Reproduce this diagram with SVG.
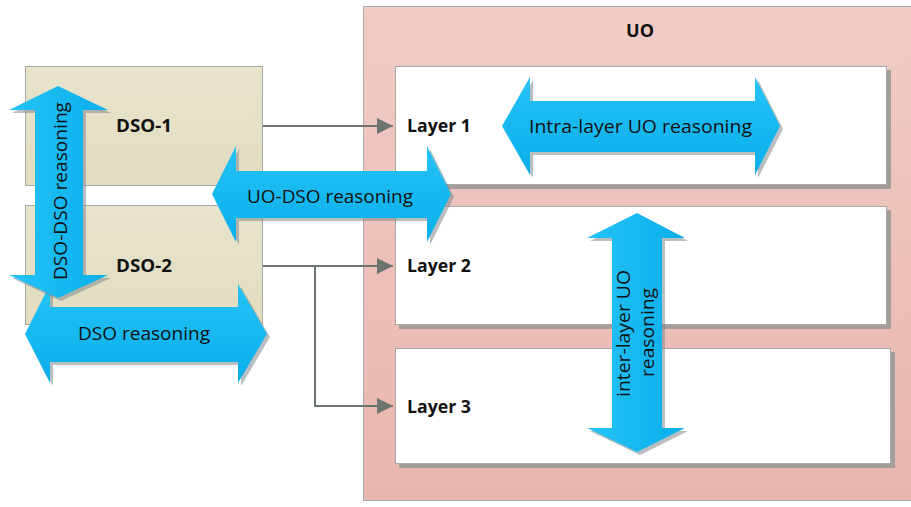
<svg xmlns="http://www.w3.org/2000/svg" xmlns:xlink="http://www.w3.org/1999/xlink" width="911" height="507" viewBox="0 0 911 507">
<defs>
<linearGradient id="gUO" x1="0" y1="0" x2="0" y2="1"><stop offset="0" stop-color="#f0ccc6"/><stop offset="1" stop-color="#e9b6ae"/></linearGradient>
<linearGradient id="gDSO" x1="0" y1="0" x2="0" y2="1"><stop offset="0" stop-color="#e8e4cc"/><stop offset="1" stop-color="#e2ddc0"/></linearGradient>
<linearGradient id="gH" x1="0" y1="0" x2="0" y2="1"><stop offset="0" stop-color="#25c3f7"/><stop offset="1" stop-color="#0aaeea"/></linearGradient>
<linearGradient id="gV" x1="0" y1="0" x2="1" y2="0"><stop offset="0" stop-color="#25c3f7"/><stop offset="1" stop-color="#0aaeea"/></linearGradient>
<marker id="ah" viewBox="0 0 16 16" refX="16" refY="8" markerWidth="16" markerHeight="16" markerUnits="userSpaceOnUse" orient="auto"><path d="M0,0 L16,8 L0,16 Z" fill="#6c7570"/></marker>
</defs>
<style>
.box{stroke:#a8a8a8;stroke-width:1}
.shadow{fill:#a49d99}
.ashadow{fill:#7f8a8e;opacity:0.55}
.bold{font-family:"Open Sans","Liberation Sans",sans-serif;font-weight:bold;font-size:18px;fill:#111}
.lbl{font-family:"Open Sans","Liberation Sans",sans-serif;font-size:19px;fill:#111}
.conn{fill:none;stroke:#6c7570;stroke-width:2}
</style>
<rect width="911" height="507" fill="#ffffff"/>

<g id="uo">
<rect class="box" x="363.5" y="6.5" width="560" height="494" fill="url(#gUO)"/>
<text class="bold" x="640" y="37" text-anchor="middle">UO</text>
</g>

<g id="layer1">
<rect class="shadow" x="399" y="70" width="492" height="119"/>
<rect class="box" x="395.5" y="66.5" width="491" height="118" fill="#ffffff"/>
<text class="bold" x="407" y="132" textLength="64" lengthAdjust="spacingAndGlyphs">Layer 1</text>
</g>
<g id="layer2">
<rect class="shadow" x="399" y="210" width="492" height="119"/>
<rect class="box" x="395.5" y="206.5" width="491" height="118" fill="#ffffff"/>
<text class="bold" x="407" y="272" textLength="64" lengthAdjust="spacingAndGlyphs">Layer 2</text>
</g>
<g id="layer3">
<rect class="shadow" x="399" y="352" width="496" height="116"/>
<rect class="box" x="395.5" y="348.5" width="495" height="115" fill="#ffffff"/>
<text class="bold" x="407" y="413" textLength="64" lengthAdjust="spacingAndGlyphs">Layer 3</text>
</g>

<g id="dso1">
<rect class="box" x="25.5" y="66.5" width="237" height="119" fill="url(#gDSO)"/>
<text class="bold" x="116" y="132" textLength="56" lengthAdjust="spacingAndGlyphs">DSO-1</text>
</g>
<g id="dso2">
<rect class="box" x="25.5" y="205.5" width="237" height="119" fill="url(#gDSO)"/>
<text class="bold" x="116" y="272" textLength="56" lengthAdjust="spacingAndGlyphs">DSO-2</text>
</g>

<g id="connectors">
<path class="conn" d="M263,126 L393,126" marker-end="url(#ah)"/>
<path class="conn" d="M263,266 L393,266" marker-end="url(#ah)"/>
<path class="conn" d="M315,266 L315,406 L393,406" marker-end="url(#ah)"/>
</g>

<g id="dso-reasoning">
<path class="ashadow" transform="translate(3,3)" d="M25,334 L50,284 L50,307 L238,307 L238,284 L267,334 L238,383 L238,362 L50,362 L50,383 Z"/>
<path fill="url(#gH)" d="M25,334 L50,284 L50,307 L238,307 L238,284 L267,334 L238,383 L238,362 L50,362 L50,383 Z"/>
<text class="lbl" x="144" y="340" text-anchor="middle" textLength="132" lengthAdjust="spacingAndGlyphs">DSO reasoning</text>
</g>

<g id="dso-dso-reasoning">
<path class="ashadow" transform="translate(3,3)" d="M58,86 L108,110 L83,110 L83,275 L108,275 L58,298 L9,275 L35,275 L35,110 L9,110 Z"/>
<path fill="url(#gV)" d="M58,86 L108,110 L83,110 L83,275 L108,275 L58,298 L9,275 L35,275 L35,110 L9,110 Z"/>
<text class="lbl" x="67" y="191" text-anchor="middle" transform="rotate(-90 67 191)" textLength="178" lengthAdjust="spacingAndGlyphs">DSO-DSO reasoning</text>
</g>

<g id="uo-dso-reasoning">
<path class="ashadow" transform="translate(3,3)" d="M212,194 L236,146 L236,171 L427,171 L427,146 L451,194 L427,242 L427,218 L236,218 L236,242 Z"/>
<path fill="url(#gH)" d="M212,194 L236,146 L236,171 L427,171 L427,146 L451,194 L427,242 L427,218 L236,218 L236,242 Z"/>
<text class="lbl" x="330" y="203" text-anchor="middle" textLength="166" lengthAdjust="spacingAndGlyphs">UO-DSO reasoning</text>
</g>

<g id="intra-layer-reasoning">
<path class="ashadow" transform="translate(3,3)" d="M502,126 L530,77 L530,101 L755,101 L755,77 L780,126 L755,175 L755,152 L530,152 L530,175 Z"/>
<path fill="url(#gH)" d="M502,126 L530,77 L530,101 L755,101 L755,77 L780,126 L755,175 L755,152 L530,152 L530,175 Z"/>
<text class="lbl" x="640.5" y="133" text-anchor="middle" textLength="223" lengthAdjust="spacingAndGlyphs">Intra-layer UO reasoning</text>
</g>

<g id="inter-layer-reasoning">
<path class="ashadow" transform="translate(3,3)" d="M637,213 L685,238 L662,238 L662,428 L685,428 L637,452 L587,428 L612,428 L612,238 L587,238 Z"/>
<path fill="url(#gV)" d="M637,213 L685,238 L662,238 L662,428 L685,428 L637,452 L587,428 L612,428 L612,238 L587,238 Z"/>
<text class="lbl" x="630" y="333.5" text-anchor="middle" transform="rotate(-90 630 333.5)" textLength="127" lengthAdjust="spacingAndGlyphs">inter-layer UO</text>
<text class="lbl" x="654" y="332.5" text-anchor="middle" transform="rotate(-90 654 332.5)" textLength="89" lengthAdjust="spacingAndGlyphs">reasoning</text>
</g>
</svg>
